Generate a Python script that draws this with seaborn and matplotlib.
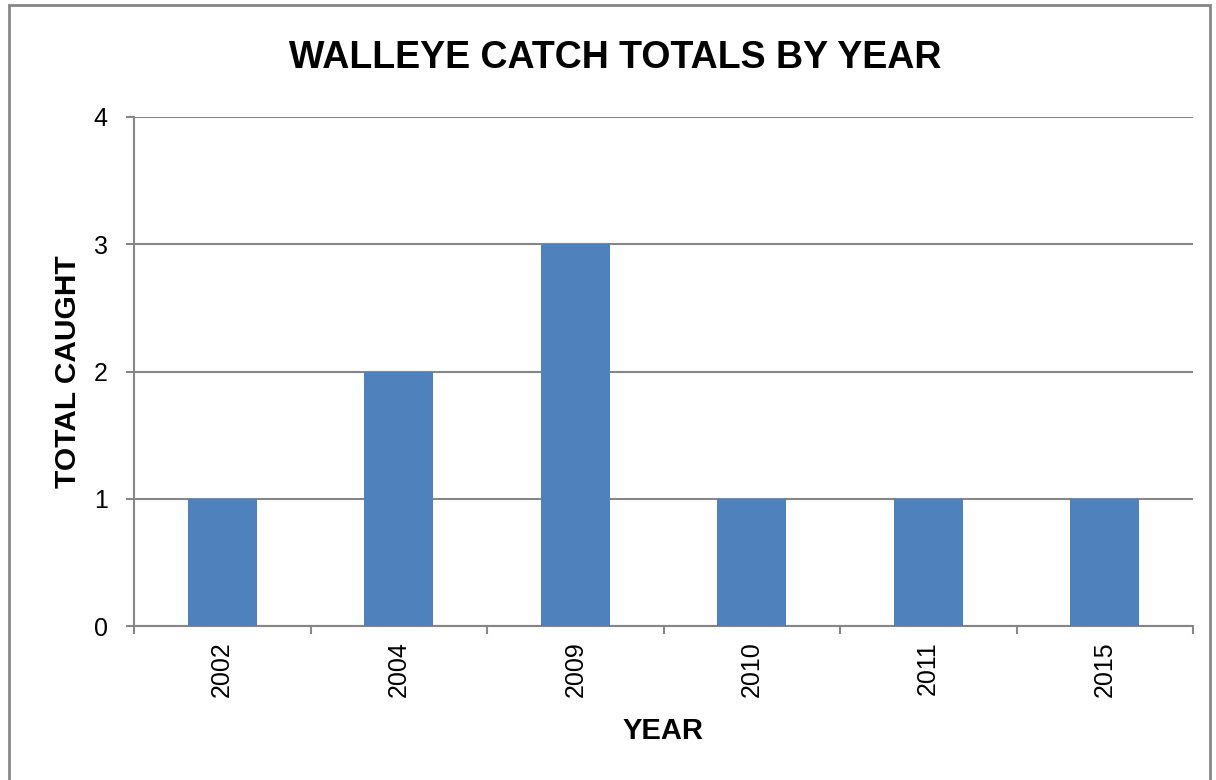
import matplotlib
matplotlib.use('Agg')
import matplotlib.pyplot as plt
import seaborn as sns
import pandas as pd
from matplotlib.patches import Rectangle

years = ['2002', '2004', '2009', '2010', '2011', '2015']
caught = [1, 2, 3, 1, 1, 1]

df = pd.DataFrame({'year': years, 'caught': caught})

sns.set_style('white')
plt.rcParams['font.family'] = ['Liberation Sans', 'DejaVu Sans']
plt.rcParams['text.color'] = 'black'
plt.rcParams['axes.labelcolor'] = 'black'
plt.rcParams['xtick.color'] = 'black'
plt.rcParams['ytick.color'] = 'black'

W, H = 1216, 780
fig = plt.figure(figsize=(W / 100, H / 100), dpi=100)
ax = fig.add_axes([134 / W, 1 - 626 / H, (1193 - 134) / W, (626 - 117) / H])

sns.barplot(data=df, x='year', y='caught', color='#4F81BD', saturation=1,
            width=0.39, linewidth=0, ax=ax, zorder=3)

grid_col = '#868686'
ax.set_xlim(-0.5, len(years) - 0.5)
ax.set_ylim(0, 4)
ax.set_yticks([0, 1, 2, 3, 4])
ax.yaxis.grid(True, color=grid_col, linewidth=1.5, zorder=0)
ax.set_axisbelow(True)

for s in ['top', 'right']:
    ax.spines[s].set_visible(False)
for s in ['left', 'bottom']:
    ax.spines[s].set_color(grid_col)
    ax.spines[s].set_linewidth(1.5)

# ticks at category boundaries on x
ax.set_xticks([i - 0.5 for i in range(len(years) + 1)], minor=True)
ax.tick_params(axis='x', which='minor', bottom=True, length=6, width=1.5,
               color=grid_col, direction='out')
ax.tick_params(axis='x', which='major', bottom=True, length=0, pad=11,
               labelsize=18, rotation=90)
ax.tick_params(axis='y', left=True, length=6, width=1.5, color=grid_col,
               direction='out', pad=13, labelsize=18)

ax.set_xlabel('YEAR', fontsize=21, fontweight='bold', labelpad=14)
ax.set_ylabel('TOTAL CAUGHT', fontsize=21.5, fontweight='bold', labelpad=8)

fig.text(615 / W, 1 - 58 / H, 'WALLEYE CATCH TOTALS BY YEAR', ha='center', va='center',
         fontsize=27, fontweight='bold')

fig.patches.append(Rectangle((9 / W, -0.05), (1210 - 9) / W, 1.05 - 5 / H,
                             transform=fig.transFigure, fill=False,
                             edgecolor=grid_col, linewidth=2, clip_on=False))

fig.savefig('out.png', dpi=100, facecolor='white')
